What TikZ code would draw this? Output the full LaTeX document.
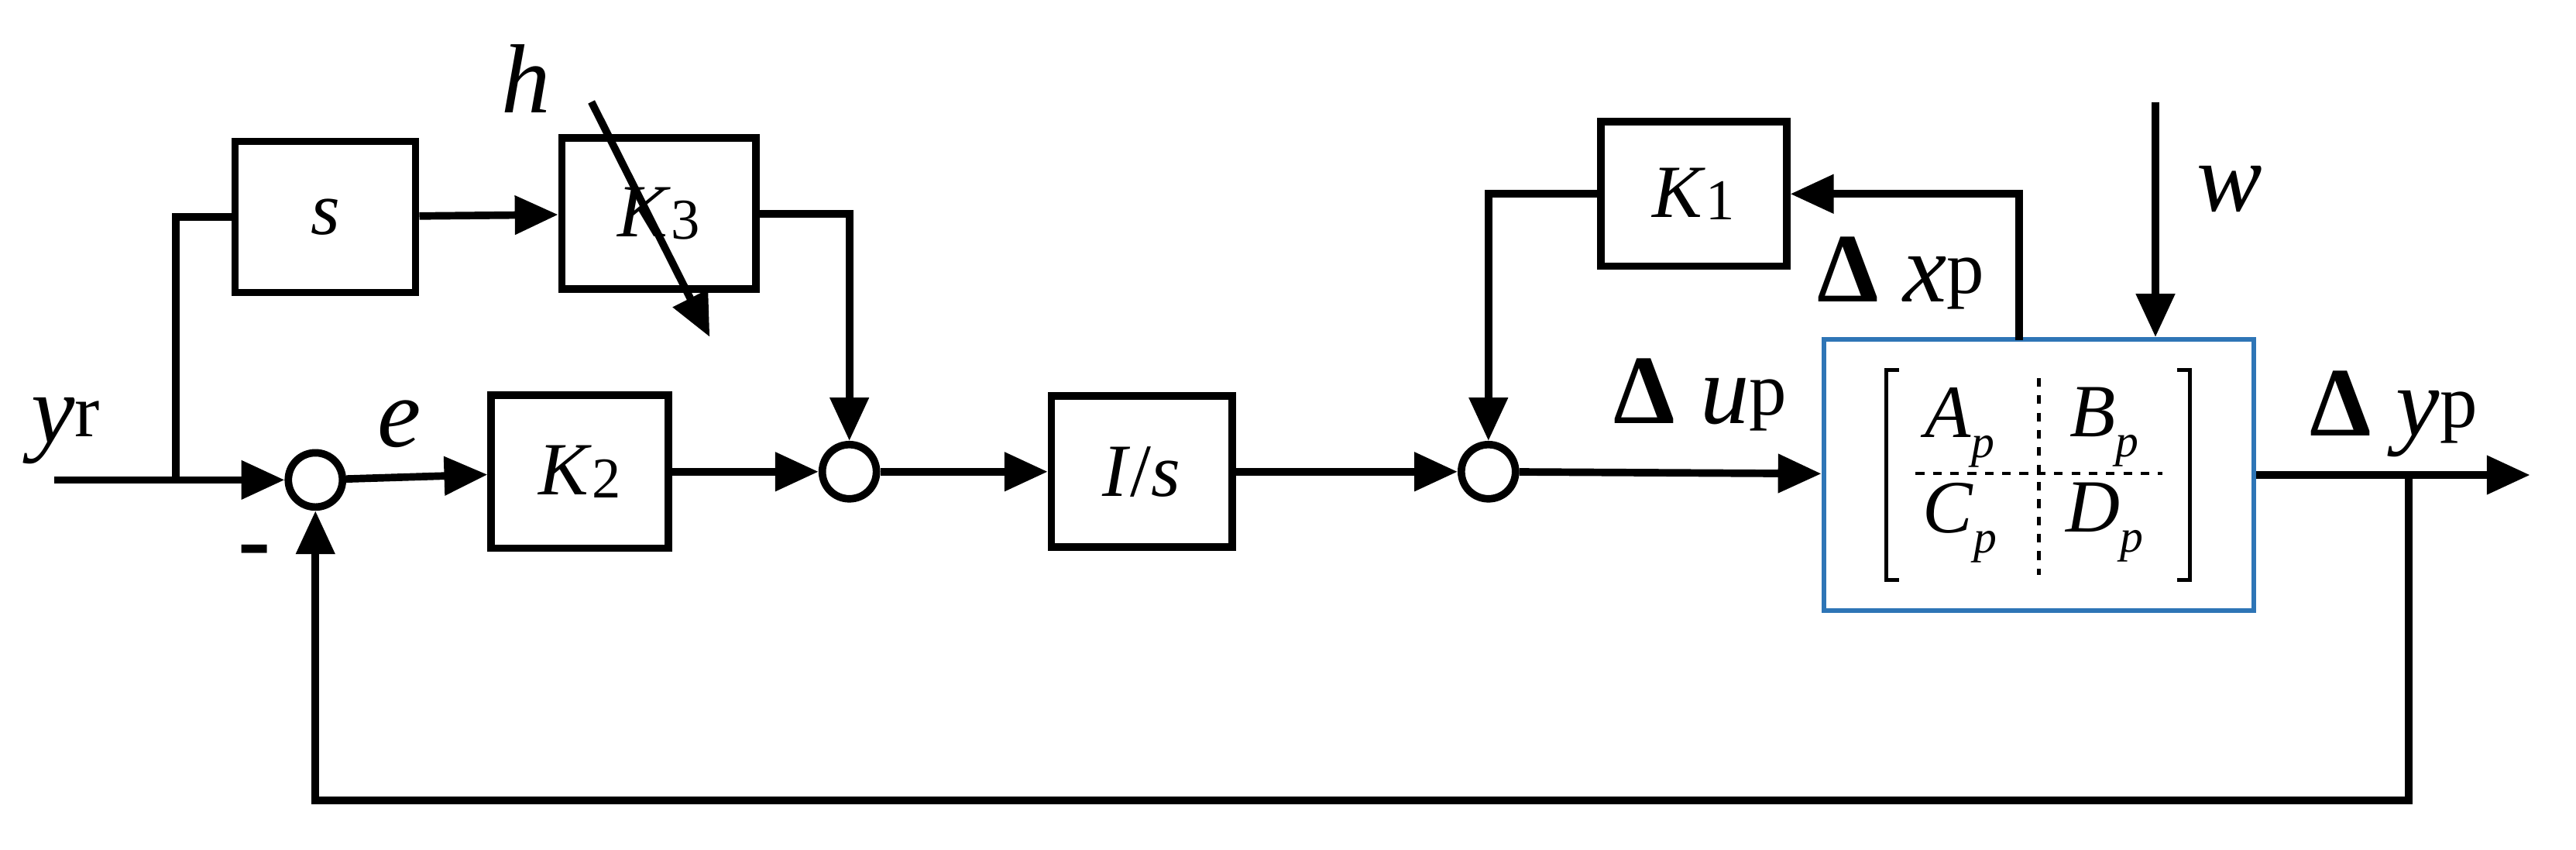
\documentclass[tikz,border=0pt]{standalone}
\usepackage{fontspec}
\setmainfont{Liberation Serif}
\usetikzlibrary{arrows.meta}
\definecolor{plantblue}{RGB}{46,117,182}
\newcommand{\subp}[1]{\raisebox{-7pt}{\fontsize{16}{18}\selectfont\textit{#1}}}
\tikzset{
  blk/.style={draw,line width=2.6pt,minimum width=2.2cm,minimum height=1.84cm,inner sep=0,font=\fontsize{26}{28}\selectfont},
  sum/.style={draw,circle,line width=2.6pt,minimum size=0.66cm,inner sep=0},
  sig/.style={line width=2.6pt,-{Triangle[length=15pt,width=13pt]}},
  wire/.style={line width=2.6pt},
  lbl/.style={font=\fontsize{34}{36}\selectfont,inner sep=0}
}
\begin{document}
\begin{tikzpicture}[x=0.02cm,y=-0.02cm]
  \useasboundingbox (0,0) rectangle (1568,517);
  % blocks
  \node[blk] (S) at (198,132) {\textit{s}};
  \node[blk,minimum width=2.36cm] (K3) at (401,130) {\textit{K}\raisebox{-1pt}{\fontsize{20}{22}\selectfont 3}};
  \node[blk,minimum width=2.16cm,minimum height=1.86cm] (K2) at (353,287) {\textit{K}\raisebox{-1pt}{\fontsize{20}{22}\selectfont 2}};
  \node[blk] (Is) at (695,287) {\textit{I}/\textit{s}};
  \node[blk,minimum width=2.26cm,minimum height=1.76cm] (K1) at (1031,118) {\textit{K}\raisebox{-1pt}{\fontsize{20}{22}\selectfont 1}};
  \node[draw=plantblue,line width=1.6pt,minimum width=5.24cm,minimum height=3.3cm,inner sep=0] (P) at (1241,289) {};
  % sums
  \node[sum] (s1) at (192,292) {};
  \node[sum] (s2) at (517,287) {};
  \node[sum] (s3) at (906,287) {};
  % plant matrix
  \begin{scope}[font=\fontsize{26}{28}\selectfont]
    \draw[line width=1.4pt] (1156,225) -- (1148,225) -- (1148,353) -- (1156,353);
    \draw[line width=1.4pt] (1325,225) -- (1333,225) -- (1333,353) -- (1325,353);
    \draw[dashed,line width=1.2pt] (1241,230) -- (1241,350);
    \draw[dashed,line width=1.2pt] (1166,288) -- (1316,288);
    \node (A) at (1193,260) {\textit{A}\subp{p}};
    \node (B) at (1281,260) {\textit{B}\subp{p}};
    \node (C) at (1193,318) {\textit{C}\subp{p}};
    \node (D) at (1281,318) {\textit{D}\subp{p}};
  \end{scope}
  % coordinates
  \coordinate (in) at (33,292);
  \coordinate (br) at (107,292);
  \coordinate (out) at (1540,289);
  \coordinate (yb) at (1466,289);
  \coordinate (xp) at (1229,207);
  \coordinate (wtop) at (1312,62);
  \coordinate (hs) at (360,62);
  \coordinate (he) at (432,205);
  % signals
  \draw[sig] (in) -- (s1);
  \draw[wire] (br) |- (S.west);
  \draw[sig] (S) -- (K3);
  \draw[sig] (K3.east) -| (s2.north);
  \draw[sig] (s1) -- (K2);
  \draw[sig] (K2) -- (s2);
  \draw[sig] (s2) -- (Is);
  \draw[sig] (Is) -- (s3);
  \draw[sig] (s3) -- (P);
  \draw[sig] (P) -- (out);
  \draw[sig] (xp) |- (K1.east);
  \draw[sig] (K1.west) -| (s3.north);
  \draw[sig] (wtop) -- (wtop |- P.north);
  \draw[sig] (yb) -- (1466,487) -| (s1.south);
  \draw[sig] (hs) -- (he);
  % labels
  \node[lbl] (yr) at (40,262) {\textit{y}\raisebox{2pt}{\fontsize{26}{28}\selectfont r}};
  \node[lbl] (e) at (243,258) {\textit{e}};
  \node[lbl] (hl) at (320,48) {\textit{h}};
  \node[lbl] (w) at (1357,115) {\textit{w}};
  \node[lbl] (dx) at (1157,166) {\textbf{Δ} \textit{x}\raisebox{3pt}{\fontsize{26}{28}\selectfont p}};
  \node[lbl] (du) at (1035,240) {\textbf{Δ} \textit{u}\raisebox{3pt}{\fontsize{26}{28}\selectfont p}};
  \node[lbl] (dy) at (1457,252) {\textbf{Δ} \textit{y}\raisebox{3pt}{\fontsize{26}{28}\selectfont p}};
  \node[lbl] (neg) at (155,340) {\textbf{-}};
\end{tikzpicture}
\end{document}
